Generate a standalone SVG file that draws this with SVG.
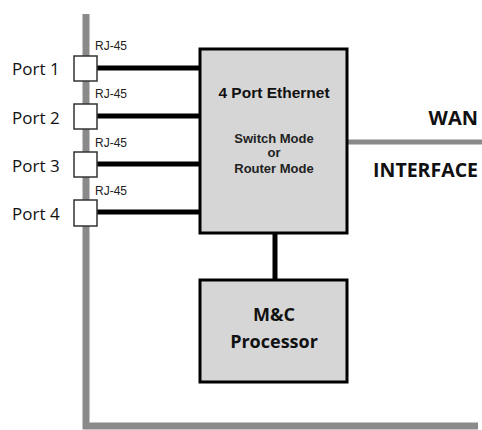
<svg xmlns="http://www.w3.org/2000/svg" width="482" height="430" viewBox="0 0 482 430">
<style>
.bar{stroke:#8a8a8a;fill:none}
.wire{stroke:#000;stroke-width:5;fill:none}
.jack{fill:#fff;stroke:#333;stroke-width:1.5}
.blk{fill:#d6d6d6;stroke:#000;stroke-width:3}
.port{font-family:"Open Sans","Liberation Sans",sans-serif;font-size:17px;fill:#111}
.rj{font-family:"Liberation Sans",sans-serif;font-size:12px;fill:#222}
.t1{font-family:"Liberation Sans",sans-serif;font-weight:bold;font-size:15.5px;fill:#111;text-anchor:middle}
.t2{font-family:"Liberation Sans",sans-serif;font-weight:bold;font-size:13px;fill:#222;text-anchor:middle}
.big{font-family:"Open Sans","Liberation Sans",sans-serif;font-weight:bold;fill:#111}
</style>
<rect width="482" height="430" fill="#fff"/>
<g id="connectors">
<path class="bar" stroke-width="7" d="M86,14 V426 H478"/>
<line class="bar" stroke-width="5" x1="347" y1="142" x2="482" y2="142"/>
<line class="wire" x1="97" y1="68" x2="200" y2="68"/>
<line class="wire" x1="97" y1="116" x2="200" y2="116"/>
<line class="wire" x1="97" y1="164" x2="200" y2="164"/>
<line class="wire" x1="97" y1="212" x2="200" y2="212"/>
<line class="wire" x1="275" y1="233" x2="275" y2="280"/>
</g>
<g id="port1">
<rect class="jack" x="74" y="56" width="23" height="25"/>
<text class="port" x="12" y="75">Port 1</text>
<text class="rj" x="95" y="50">RJ-45</text>
</g>
<g id="port2">
<rect class="jack" x="74" y="104" width="23" height="25"/>
<text class="port" x="12" y="124">Port 2</text>
<text class="rj" x="95" y="98">RJ-45</text>
</g>
<g id="port3">
<rect class="jack" x="74" y="152" width="23" height="25"/>
<text class="port" x="12" y="172">Port 3</text>
<text class="rj" x="95" y="147">RJ-45</text>
</g>
<g id="port4">
<rect class="jack" x="74" y="200" width="23" height="26"/>
<text class="port" x="12" y="220">Port 4</text>
<text class="rj" x="95" y="195">RJ-45</text>
</g>
<g id="ethernet">
<rect class="blk" x="200" y="49" width="147" height="184"/>
<text class="t1" x="274" y="98">4 Port Ethernet</text>
<text class="t2" x="274" y="143">Switch Mode</text>
<text class="t2" x="274" y="157">or</text>
<text class="t2" x="274" y="173">Router Mode</text>
</g>
<g id="wan">
<text class="big" x="478" y="125" font-size="20" text-anchor="end">WAN</text>
<text class="big" x="478" y="177" font-size="19.5" text-anchor="end">INTERFACE</text>
</g>
<g id="processor">
<rect class="blk" x="200" y="280" width="147" height="102"/>
<text class="big" x="274" y="321" font-size="18" text-anchor="middle">M&amp;C</text>
<text class="big" x="274" y="348" font-size="18" text-anchor="middle">Processor</text>
</g>
</svg>
